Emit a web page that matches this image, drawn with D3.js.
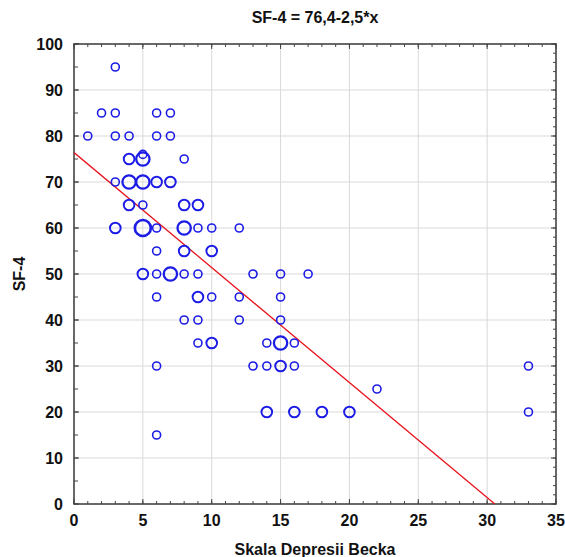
<!DOCTYPE html>
<meta charset="utf-8">
<style>
body { margin: 0; background: #fff; }
svg { display: block; font-family: "Liberation Sans", Arial, sans-serif; }
.grid line { stroke: #d9d9d9; stroke-width: 1; }
.tick-lab { font-size: 16px; font-weight: bold; fill: #111; }
.title { font-size: 16px; font-weight: bold; fill: #111; }
.axis-title { font-size: 16px; font-weight: bold; fill: #111; }
</style>
<body>
<svg width="565" height="557"></svg>
<script src="https://cdn.jsdelivr.net/npm/d3@7"></script>
<script>

// Skala Depresii Becka (x), SF-4 (y), number of overlapping cases at each point
var bdi   = [3, 2, 3, 6, 7, 1, 3, 4, 6, 7, 4, 5, 5, 8, 3, 4, 5, 6, 7, 4, 5, 8, 9,
             3, 5, 6, 8, 9, 10, 12, 6, 8, 10, 5, 6, 7, 8, 9, 13, 15, 17,
             6, 9, 10, 12, 15, 8, 9, 12, 15, 9, 10, 14, 15, 16,
             6, 13, 14, 15, 16, 33, 22, 14, 16, 18, 20, 33, 6];
var sf4   = [95, 85, 85, 85, 85, 80, 80, 80, 80, 80, 75, 75, 76, 75, 70, 70, 70, 70, 70, 65, 65, 65, 65,
             60, 60, 60, 60, 60, 60, 60, 55, 55, 55, 50, 50, 50, 50, 50, 50, 50, 50,
             45, 45, 45, 45, 45, 40, 40, 40, 40, 35, 35, 35, 35, 35,
             30, 30, 30, 30, 30, 30, 25, 20, 20, 20, 20, 20, 15];
var count = [1, 1, 1, 1, 1, 1, 1, 1, 1, 1, 2, 3, 1, 1, 1, 3, 3, 2, 2, 2, 1, 2, 2,
             2, 4, 1, 3, 1, 1, 1, 1, 2, 2, 2, 1, 3, 1, 1, 1, 1, 1,
             1, 2, 1, 1, 1, 1, 1, 1, 1, 1, 2, 1, 3, 1,
             1, 1, 1, 2, 1, 1, 1, 2, 2, 2, 2, 1, 1];

var xTicks = [0, 5, 10, 15, 20, 25, 30, 35];
var yTicks = [0, 10, 20, 30, 40, 50, 60, 70, 80, 90, 100];

// regression: SF-4 = 76,4 - 2,5*x
var intercept = 76.4, slope = -2.5;

var svg = d3.select("svg");
var pLeft = 74, pRight = 556, pTop = 44, pBottom = 504;

var x = d3.scaleLinear().domain([0, 35]).range([pLeft, pRight]);
var y = d3.scaleLinear().domain([0, 100]).range([pBottom, pTop]);
var r = d3.scaleLinear().domain([1, 4]).range([4, 8]);
var sw = d3.scaleLinear().domain([1, 4]).range([1.6, 2.6]);

var points = bdi.map(function(d, i) { return {x: d, y: sf4[i], n: count[i]}; });

// grid
var grid = svg.append("g").attr("class", "grid");
grid.selectAll(".gx").data(xTicks.slice(1, -1)).enter().append("line")
    .attr("x1", function(d) { return x(d); }).attr("x2", function(d) { return x(d); })
    .attr("y1", pTop).attr("y2", pBottom);
grid.selectAll(".gy").data(yTicks.slice(1, -1)).enter().append("line")
    .attr("y1", function(d) { return y(d); }).attr("y2", function(d) { return y(d); })
    .attr("x1", pLeft).attr("x2", pRight);

// inward ticks on all four sides
function ticks(vals, len, side) {
  var horiz = side == "b" || side == "t";
  svg.append("g").selectAll("line").data(vals).enter().append("line")
    .attr("stroke", "#444").attr("stroke-width", 1)
    .attr("x1", function(d) { return horiz ? x(d) : (side == "l" ? pLeft : pRight); })
    .attr("x2", function(d) { return horiz ? x(d) : (side == "l" ? pLeft + len : pRight - len); })
    .attr("y1", function(d) { return !horiz ? y(d) : (side == "b" ? pBottom : pTop); })
    .attr("y2", function(d) { return !horiz ? y(d) : (side == "b" ? pBottom - len : pTop + len); });
}
ticks(d3.range(0, 36, 1), 3, "b");
ticks(d3.range(0, 36, 1), 3, "t");
ticks(xTicks, 5, "b");
ticks(xTicks, 5, "t");
ticks(d3.range(0, 101, 5), 4, "l");
ticks(yTicks, 5, "l");
ticks(d3.range(0, 101, 2), 3, "r");
ticks(yTicks, 5, "r");

// frame
svg.append("rect")
    .attr("x", pLeft).attr("y", pTop)
    .attr("width", pRight - pLeft).attr("height", pBottom - pTop)
    .attr("fill", "none").attr("stroke", "#444").attr("stroke-width", 1.6);

// tick labels
svg.append("g").selectAll("text").data(xTicks).enter().append("text")
    .attr("class", "tick-lab")
    .attr("x", function(d) { return x(d); })
    .attr("y", pBottom + 22)
    .attr("text-anchor", "middle")
    .text(function(d) { return d; });
svg.append("g").selectAll("text").data(yTicks).enter().append("text")
    .attr("class", "tick-lab")
    .attr("x", pLeft - 11)
    .attr("y", function(d) { return y(d) + 6; })
    .attr("text-anchor", "end")
    .text(function(d) { return d; });

// regression line, clipped to the plot box
svg.append("clipPath").attr("id", "clip").append("rect")
    .attr("x", pLeft).attr("y", pTop).attr("width", pRight - pLeft).attr("height", pBottom - pTop);
var xEnd = -intercept / slope;
svg.append("line")
    .attr("clip-path", "url(#clip)")
    .attr("x1", x(0)).attr("y1", y(intercept))
    .attr("x2", x(xEnd)).attr("y2", y(0))
    .attr("stroke", "#e8141e").attr("stroke-width", 1.3);

// bubbles
svg.append("g").selectAll("circle").data(points).enter().append("circle")
    .attr("cx", function(d) { return x(d.x); })
    .attr("cy", function(d) { return y(d.y); })
    .attr("r", function(d) { return r(d.n); })
    .attr("fill", "none")
    .attr("stroke", "#1c1ce6")
    .attr("stroke-width", function(d) { return sw(d.n); });

// titles
svg.append("text").attr("class", "title")
    .attr("x", (pLeft + pRight) / 2).attr("y", 23)
    .attr("text-anchor", "middle")
    .text("SF-4 = 76,4-2,5*x");
svg.append("text").attr("class", "axis-title")
    .attr("x", (pLeft + pRight) / 2).attr("y", 555)
    .attr("text-anchor", "middle")
    .text("Skala Depresii Becka");
svg.append("text").attr("class", "axis-title")
    .attr("transform", "translate(25," + ((pTop + pBottom) / 2) + ") rotate(-90)")
    .attr("text-anchor", "middle")
    .text("SF-4");

</script>
</body>
